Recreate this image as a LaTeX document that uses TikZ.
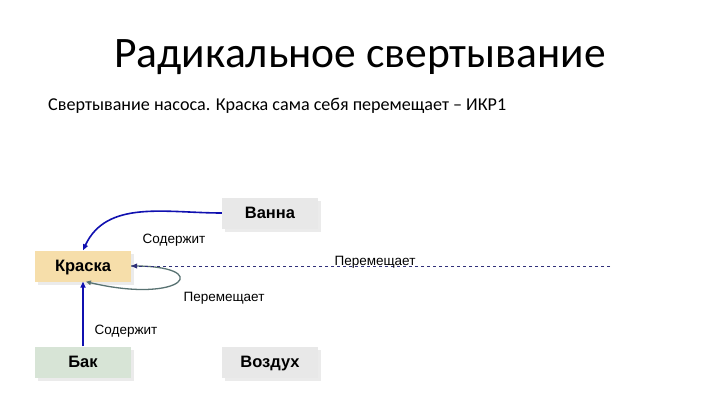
\documentclass[tikz,border=0pt]{standalone}
\usepackage{fontspec}
\setmainfont{Carlito}
\newfontfamily\arialfont{Liberation Sans}
\usetikzlibrary{arrows.meta, shadows}

\definecolor{relblue}{HTML}{1010B0}
\definecolor{loopgrey}{HTML}{587272}
\definecolor{dashblue}{HTML}{30307A}
\definecolor{boxgrey}{HTML}{E8E8E8}
\definecolor{boxpaint}{HTML}{F6DEAA}
\definecolor{boxtank}{HTML}{D7E4D6}

\tikzset{
  box/.style={minimum width=96pt, minimum height=31pt, inner sep=0pt,
    text height=11.5pt, text depth=0pt,
    font=\arialfont\fontsize{16.5}{18}\selectfont\bfseries,
    drop shadow={shadow xshift=3pt, shadow yshift=-3pt, fill=black!8, opacity=1}},
  rel/.style={draw=relblue, line width=1.6pt, -{Triangle[length=6pt, width=5pt]}},
  lbl/.style={font=\arialfont\fontsize{13.5}{15}\selectfont, inner sep=1pt}
}

\begin{document}
\begin{tikzpicture}[x=1pt, y=1pt]
  \useasboundingbox[fill=white] (0,0) rectangle (720,405);

  \node[anchor=base, font=\fontsize{43.5}{48}\selectfont] (title) at (360,337) {Радикальное свертывание};
  \node[anchor=base west, inner sep=0pt, font=\fontsize{18.1}{20}\selectfont] (sub) at (48,294)
    {Свертывание насоса. Краска сама себя перемещает – ИКР1};

  \node[box, fill=boxgrey] (vanna) at (270,192) {Ванна};
  \node[box, fill=boxpaint] (kraska) at (83,139) {Краска};
  \node[box, fill=boxtank] (bak) at (83,43) {Бак};
  \node[box, fill=boxgrey] (vozduh) at (270,43) {Воздух};

  \coordinate (far) at (610,139);

  % self loop
  \draw[loopgrey, line width=1.3pt, -{Triangle[length=5pt, width=4.5pt]}]
    (kraska.east) .. controls (215,140) and (185,100) .. ([xshift=3pt]kraska.south);
  \node[lbl] (l3) at (224,107) {Перемещает};

  % moves from far right
  \draw[dashblue, dashed, line width=0.8pt, -{Triangle[length=6pt, width=5pt]}] (far) -- (kraska.east);
  \node[lbl, anchor=base] (l4) at (375,139.5) {Перемещает};

  \draw[rel] (vanna.west) to[out=180, in=65] (kraska.north);
  \node[lbl] (l1) at (174,165) {Содержит};

  \draw[rel] (bak.north) -- (kraska.south);
  \node[lbl] (l2) at (126,74) {Содержит};
\end{tikzpicture}
\end{document}
